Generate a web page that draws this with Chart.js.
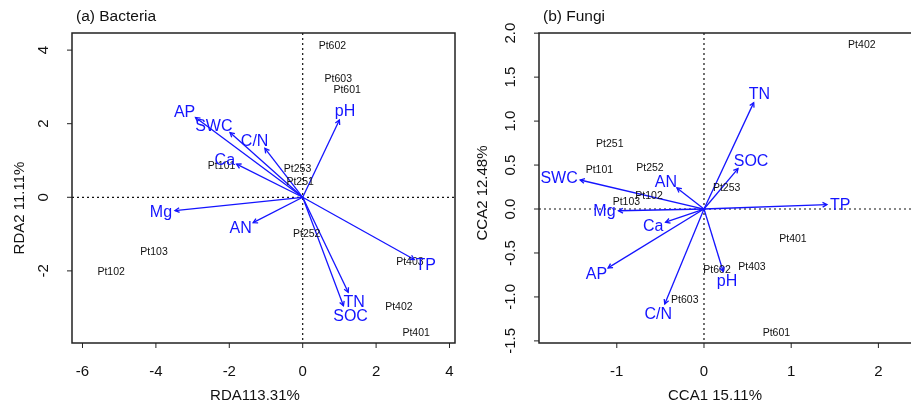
<!DOCTYPE html>
<html>
<head>
<meta charset="utf-8">
<script src="https://cdn.jsdelivr.net/npm/chart.js@4"></script>
<style>
html, body { margin: 0; padding: 0; background: #fff; overflow: hidden; width: 911px; height: 403px; }
#bacteriaWrap { position: absolute; left: 0; top: 0; }
#fungiWrap { position: absolute; left: 455px; top: 0; }
</style>
</head>
<body>
<div id="bacteriaWrap"><canvas id="bacteriaChart" width="460" height="403"></canvas></div>
<div id="fungiWrap"><canvas id="fungiChart" width="520" height="403"></canvas></div>
<script>
// (a) Bacteria - RDA
const bacSiteNames = ["Pt602", "Pt603", "Pt601", "Pt253", "Pt251", "Pt101", "Pt252", "Pt103", "Pt102", "Pt403", "Pt402", "Pt401"];
const bacSiteX = [0.81, 0.97, 1.21, -0.14, -0.07, -2.21, 0.11, -4.05, -5.22, 2.92, 2.62, 3.09];
const bacSiteY = [4.12, 3.21, 2.92, 0.77, 0.42, 0.86, -1.00, -1.48, -2.02, -1.75, -2.99, -3.68];
const bacEnvNames = ["AP", "SWC", "C/N", "Ca", "pH", "Mg", "AN", "TP", "TN", "SOC"];
const bacEnvX = [-2.92, -1.98, -1.03, -1.80, 1.00, -3.48, -1.35, 3.04, 1.24, 1.11];
const bacEnvY = [2.17, 1.76, 1.33, 0.90, 2.10, -0.36, -0.69, -1.69, -2.58, -2.95];
const bacXTicks = [-6, -4, -2, 0, 2, 4];
const bacYTicks = [-2, 0, 2, 4];

// (b) Fungi - CCA
const funSiteNames = ["Pt402", "Pt251", "Pt101", "Pt252", "Pt253", "Pt102", "Pt103", "Pt401", "Pt602", "Pt403", "Pt603", "Pt601"];
const funSiteX = [1.81, -1.08, -1.20, -0.62, 0.26, -0.63, -0.89, 1.02, 0.15, 0.55, -0.22, 0.83];
const funSiteY = [1.86, 0.74, 0.44, 0.47, 0.24, 0.15, 0.08, -0.34, -0.70, -0.66, -1.04, -1.41];
const funEnvNames = ["TN", "SOC", "SWC", "AN", "TP", "Mg", "Ca", "AP", "C/N", "pH"];
const funEnvX = [0.57, 0.39, -1.42, -0.31, 1.41, -0.98, -0.44, -1.10, -0.45, 0.22];
const funEnvY = [1.21, 0.46, 0.33, 0.24, 0.05, -0.02, -0.15, -0.67, -1.08, -0.71];
const funXTicks = [-1, 0, 1, 2];
const funYTicks = [-1.5, -1.0, -0.5, 0.0, 0.5, 1.0, 1.5, 2.0];

const FONT = '"Liberation Sans", Arial, sans-serif';
const BLUE = "#1414ff";

const biplotPlugin = {
    id: "biplot",
    beforeDatasetsDraw(chart, args, opts) {
        const ctx = chart.ctx;
        const a = chart.chartArea;
        const xs = chart.scales.x, ys = chart.scales.y;
        ctx.save();
        // dotted zero lines
        ctx.strokeStyle = "#111";
        ctx.lineWidth = 1.2;
        ctx.setLineDash([2, 3]);
        const x0 = xs.getPixelForValue(0), y0 = ys.getPixelForValue(0);
        ctx.beginPath();
        ctx.moveTo(x0, a.top); ctx.lineTo(x0, a.bottom);
        ctx.moveTo(a.left, y0); ctx.lineTo(a.right, y0);
        ctx.stroke();
        ctx.restore();
    },
    afterDatasetsDraw(chart, args, opts) {
        const ctx = chart.ctx;
        ctx.save();
        chart.data.datasets.forEach((ds, i) => {
            const meta = chart.getDatasetMeta(i);
            if (ds.kind === "sites") {
                ctx.fillStyle = "#111";
                ctx.font = "10.5px " + FONT;
                ctx.textAlign = "center";
                ctx.textBaseline = "middle";
                meta.data.forEach((pt, j) => ctx.fillText(ds.names[j], pt.x, pt.y));
            } else if (ds.kind === "arrow") {
                const p0 = meta.data[0], p1 = meta.data[1];
                const ang = Math.atan2(p1.y - p0.y, p1.x - p0.x);
                const h = 5;
                ctx.strokeStyle = BLUE;
                ctx.lineWidth = 1.3;
                ctx.beginPath();
                ctx.moveTo(p1.x - h * Math.cos(ang - 0.5), p1.y - h * Math.sin(ang - 0.5));
                ctx.lineTo(p1.x, p1.y);
                ctx.lineTo(p1.x - h * Math.cos(ang + 0.5), p1.y - h * Math.sin(ang + 0.5));
                ctx.stroke();
                // label just beyond the tip
                ctx.font = "16px " + FONT;
                const w = ctx.measureText(ds.label).width;
                const c = Math.cos(ang), s = Math.sin(ang);
                ctx.fillStyle = BLUE;
                ctx.textAlign = "center";
                ctx.textBaseline = "middle";
                ctx.fillText(ds.label, p1.x + c * (w / 2 + 3), p1.y + s * (6 + 4) + 1);
            }
        });
        ctx.restore();
    },
    afterDraw(chart, args, opts) {
        const ctx = chart.ctx;
        const a = chart.chartArea;
        const xs = chart.scales.x, ys = chart.scales.y;
        ctx.save();
        // box
        ctx.strokeStyle = "#222";
        ctx.lineWidth = 1.5;
        ctx.strokeRect(a.left, a.top, a.right - a.left, a.bottom - a.top);
        // ticks
        ctx.lineWidth = 1;
        ctx.beginPath();
        opts.xTicks.forEach(v => {
            const px = xs.getPixelForValue(v);
            ctx.moveTo(px, a.bottom); ctx.lineTo(px, a.bottom + 5);
        });
        opts.yTicks.forEach(v => {
            const py = ys.getPixelForValue(v);
            ctx.moveTo(a.left, py); ctx.lineTo(a.left - 5, py);
        });
        ctx.stroke();
        // tick labels
        ctx.fillStyle = "#111";
        ctx.font = "15px " + FONT;
        ctx.textAlign = "center";
        ctx.textBaseline = "middle";
        opts.xTicks.forEach(v => {
            ctx.fillText(v.toFixed(opts.digits), xs.getPixelForValue(v), a.bottom + 29);
        });
        opts.yTicks.forEach(v => {
            ctx.save();
            ctx.translate(a.left - 28, ys.getPixelForValue(v));
            ctx.rotate(-Math.PI / 2);
            ctx.fillText(v.toFixed(opts.yDigits), 0, 0);
            ctx.restore();
        });
        // axis titles
        ctx.fillText(opts.xTitle, a.left + opts.xTitleOffset, a.bottom + 53);
        ctx.save();
        ctx.translate(a.left - opts.yTitleGap, opts.yTitleY);
        ctx.rotate(-Math.PI / 2);
        ctx.fillText(opts.yTitle, 0, 0);
        ctx.restore();
        // panel title
        ctx.textAlign = "left";
        ctx.font = "15.5px " + FONT;
        ctx.fillText(opts.title, a.left + 4, 17);
        ctx.restore();
    }
};

function makeDatasets(siteNames, siteX, siteY, envNames, envX, envY) {
    const sets = [{
        kind: "sites",
        label: "sites",
        names: siteNames,
        data: siteX.map((x, i) => ({ x: x, y: siteY[i] })),
        pointRadius: 0,
        showLine: false
    }];
    envNames.forEach((name, i) => {
        sets.push({
            kind: "arrow",
            label: name,
            data: [{ x: 0, y: 0 }, { x: envX[i], y: envY[i] }],
            showLine: true,
            borderColor: BLUE,
            borderWidth: 1.3,
            pointRadius: 0
        });
    });
    return sets;
}

function makeConfig(datasets, xMin, xMax, yMin, yMax, padding, biplot) {
    return {
        type: "scatter",
        data: { datasets: datasets },
        options: {
            responsive: false,
            animation: false,
            events: [],
            layout: { padding: padding },
            scales: {
                x: { type: "linear", min: xMin, max: xMax, display: false },
                y: { type: "linear", min: yMin, max: yMax, display: false }
            },
            plugins: {
                legend: { display: false },
                tooltip: { enabled: false },
                biplot: biplot
            }
        },
        plugins: [biplotPlugin]
    };
}

new Chart(document.getElementById("bacteriaChart"), makeConfig(
    makeDatasets(bacSiteNames, bacSiteX, bacSiteY, bacEnvNames, bacEnvX, bacEnvY),
    -6.286, 4.15, -3.96, 4.465,
    { left: 72, top: 33, right: 5, bottom: 60 },
    { title: "(a) Bacteria", xTitle: "RDA113.31%", yTitle: "RDA2 11.11%",
      xTicks: bacXTicks, yTicks: bacYTicks, digits: 0, yDigits: 0,
      xTitleOffset: 183, yTitleY: 208, yTitleGap: 52 }
));

new Chart(document.getElementById("fungiChart"), makeConfig(
    makeDatasets(funSiteNames, funSiteX, funSiteY, funEnvNames, funEnvX, funEnvY),
    -1.892, 2.993, -1.524, 2.002,
    { left: 84, top: 33, right: 10, bottom: 60 },
    { title: "(b) Fungi", xTitle: "CCA1 15.11%", yTitle: "CCA2 12.48%",
      xTicks: funXTicks, yTicks: funYTicks, digits: 0, yDigits: 1,
      xTitleOffset: 176, yTitleY: 193, yTitleGap: 56 }
));
</script>
</body>
</html>
